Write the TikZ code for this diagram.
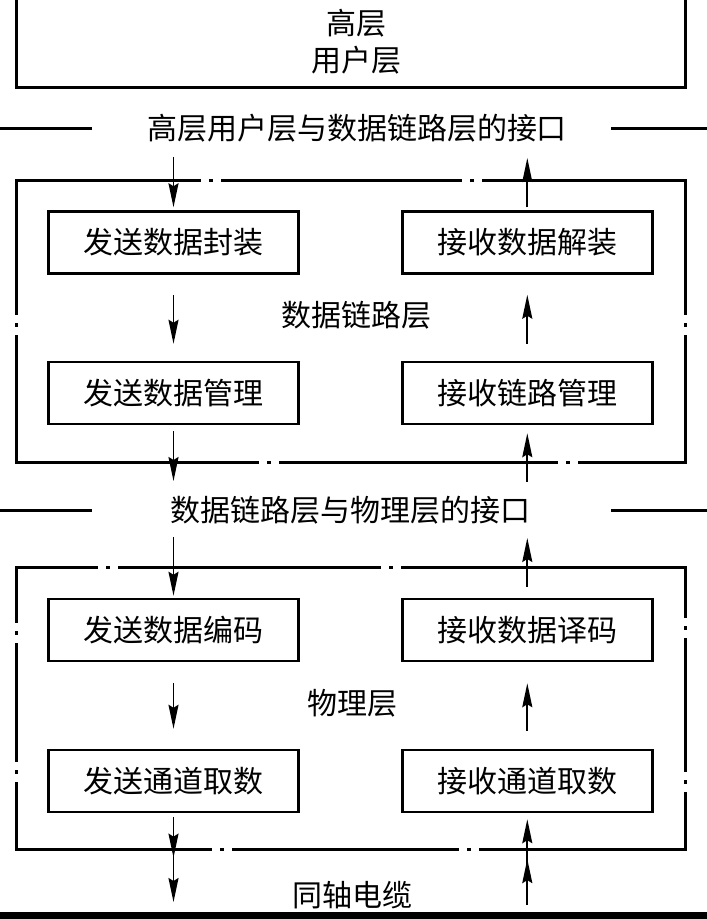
\documentclass[tikz,border=0pt]{standalone}
\usepackage{fontspec}
\setmainfont{Noto Sans CJK SC}
\usetikzlibrary{arrows.meta, decorations.markings}

\tikzset{
  unit/.style={draw, line width=2.5pt, minimum width=250pt, minimum height=62pt, inner sep=0pt},
  frame/.style={line width=3pt},
  flow/.style={line width=1.8pt, -{Stealth[length=24pt,width=10pt,inset=3pt]}},
  midtip/.style={postaction={decorate}, decoration={markings,
      mark=at position #1 with {\arrow{Stealth[length=24pt,width=10pt,inset=3pt]}}}},
}

% a break in a frame edge: white gap with a short dash in it
\newcommand{\hgapdot}[2]{%
  \fill[white] ({#1-10},{#2-3}) rectangle ({#1+10},{#2+3});
  \fill ({#1-2},{#2-1.5}) rectangle ({#1+2},{#2+1.5});}
\newcommand{\vgapdot}[2]{%
  \fill[white] ({#1-3},{#2-10}) rectangle ({#1+3},{#2+10});
  \fill ({#1-1.5},{#2-2}) rectangle ({#1+1.5},{#2+2});}

\begin{document}
\begin{tikzpicture}[x=1pt, y=-1pt, font=\fontsize{30}{37}\selectfont]
  \useasboundingbox (0,0) rectangle (707,919);

  % high layer user
  \draw[frame] (16,-5) -- (16,87) -- (685,87) -- (685,-5);
  \node[align=center] (hdr) at (356,41.5) {高层\\用户层};

  % interface 1
  \draw[frame] (0,128) -- (92,128);
  \draw[frame] (611,128) -- (707,128);
  \node (ifa) at (357,128) {高层用户层与数据链路层的接口};

  % data link layer
  \draw[frame] (16,180) rectangle (685,462);
  \foreach \x/\y in {211/180, 472/180, 269/462, 568/462}
    {\hgapdot{\x}{\y}}
  \foreach \x/\y in {16/325, 685/325}
    {\vgapdot{\x}{\y}}
  \node (dll) at (356,315) {数据链路层};
  \node[unit] (sendpack) at (173.5,242.5) {发送数据封装};
  \node[unit] (recvunpack) at (527.3,242.5) {接收数据解装};
  \node[unit] (sendmgmt) at (173.5,393) {发送数据管理};
  \node[unit] (recvlink) at (527.3,393) {接收链路管理};

  % interface 2
  \draw[frame] (0,510) -- (92,510);
  \draw[frame] (611,510) -- (707,510);
  \node (ifb) at (350,510) {数据链路层与物理层的接口};

  % physical layer
  \draw[frame] (16,567) rectangle (685,849);
  \foreach \x/\y in {108/567, 391/567, 222/849, 469/849}
    {\hgapdot{\x}{\y}}
  \foreach \x/\y in {16/633, 16/772, 685/628, 685/782}
    {\vgapdot{\x}{\y}}
  \node (phy) at (352,703) {物理层};
  \node[unit] (sendenc) at (173.5,630) {发送数据编码};
  \node[unit] (recvdec) at (527.3,630) {接收数据译码};
  \node[unit] (sendch) at (173.5,781) {发送通道取数};
  \node[unit] (recvch) at (527.3,781) {接收通道取数};

  % coaxial cable
  \fill (0,912) rectangle (707,925);
  \node (cable) at (352,895) {同轴电缆};

  \coordinate (inA) at (173.5,157);
  \coordinate (outA) at (527.3,158);
  \coordinate (outB) at (173.5,481);
  \coordinate (inB) at (527.3,482);
  \coordinate (inC) at (173.5,537);
  \coordinate (outC) at (527.3,538);
  \coordinate (cableL) at (173.5,902);
  \coordinate (cableR) at (527.3,905);

  % send side
  \draw[flow, shorten >=3pt] (inA) -- (sendpack.north);
  \draw[flow, shorten <=20pt, shorten >=17pt] (sendpack.south) -- (sendmgmt.north);
  \draw[flow, shorten <=6pt] (sendmgmt.south) -- (outB);
  \draw[flow, shorten >=2pt] (inC) -- (sendenc.north);
  \draw[flow, shorten <=21pt, shorten >=20pt] (sendenc.south) -- (sendch.north);
  \draw[flow, midtip=0.5, shorten <=4pt] (sendch.south) -- (cableL);

  % receive side
  \draw[flow, shorten <=3pt] (recvunpack.north) -- (outA);
  \draw[flow, shorten <=17pt, shorten >=20pt] (recvlink.north) -- (recvunpack.south);
  \draw[flow, shorten >=8pt] (inB) -- (recvlink.south);
  \draw[flow, shorten <=11pt] (recvdec.north) -- (outC);
  \draw[flow, shorten <=18pt, shorten >=21pt] (recvch.north) -- (recvdec.south);
  \draw[flow, midtip=0.5, shorten >=6pt] (cableR) -- (recvch.south);
\end{tikzpicture}
\end{document}
